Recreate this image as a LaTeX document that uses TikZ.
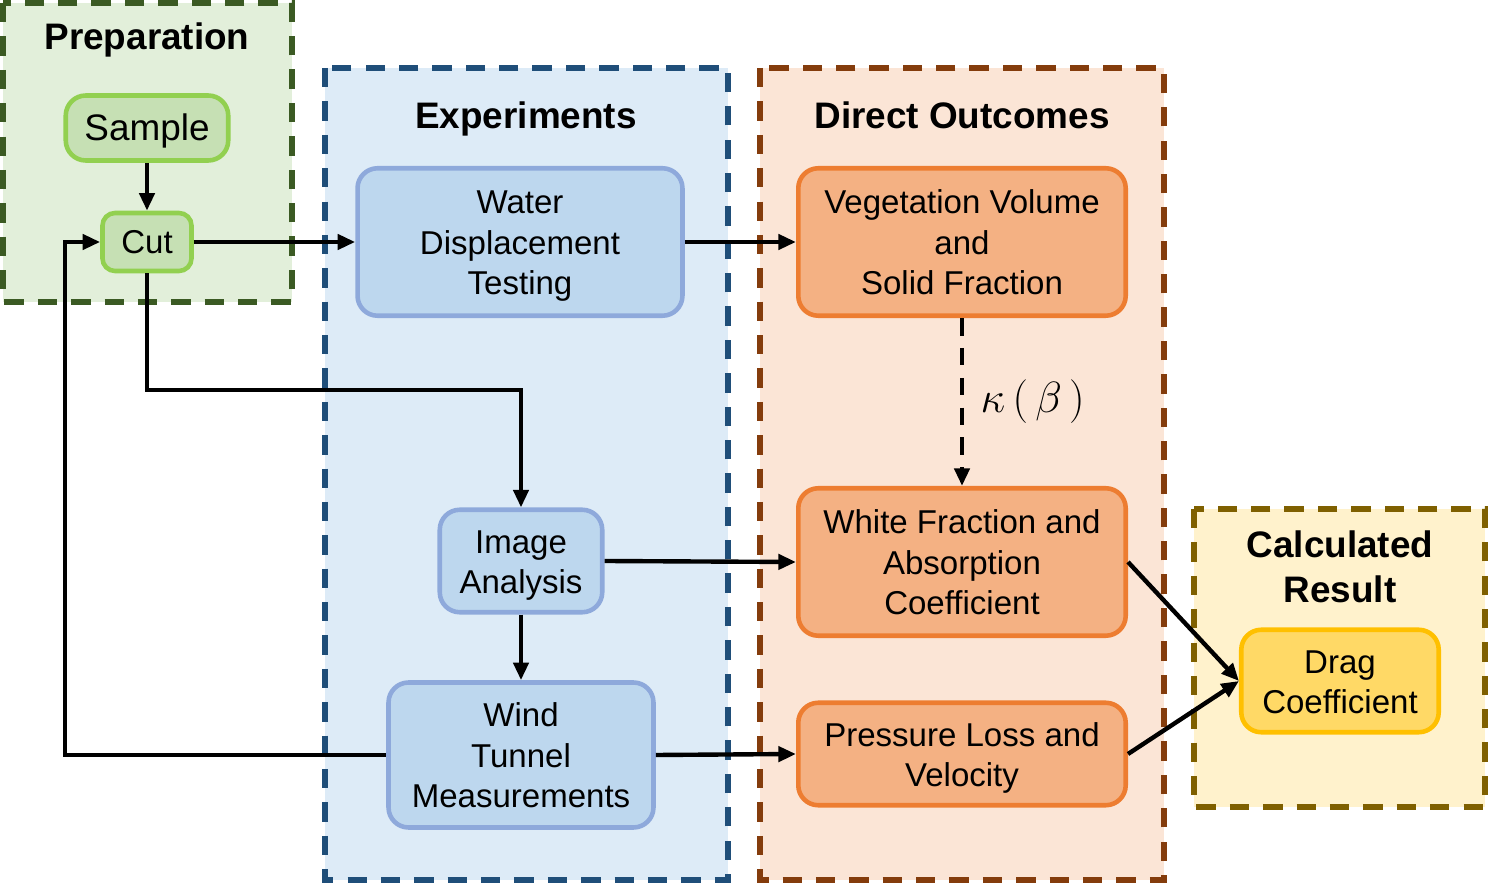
\documentclass[tikz,border=0pt]{standalone}
\usepackage{fontspec}
\setmainfont{Liberation Sans}
\usepackage{amsmath}
\definecolor{prepfill}{HTML}{E2EFDA}
\definecolor{prepdraw}{HTML}{3B5A23}
\definecolor{greenbox}{HTML}{C6E0B4}
\definecolor{greenline}{HTML}{92D050}
\definecolor{expfill}{HTML}{DDEBF7}
\definecolor{expdraw}{HTML}{1F4E79}
\definecolor{bluebox}{HTML}{BDD7EE}
\definecolor{blueline}{HTML}{8EA9DB}
\definecolor{outfill}{HTML}{FBE5D6}
\definecolor{outdraw}{HTML}{843C0C}
\definecolor{orangebox}{HTML}{F4B183}
\definecolor{orangeline}{HTML}{ED7D31}
\definecolor{calcfill}{HTML}{FFF2CC}
\definecolor{calcdraw}{HTML}{7F6000}
\definecolor{yellowbox}{HTML}{FFD966}
\definecolor{yellowline}{HTML}{FFC000}
\usetikzlibrary{arrows.meta, positioning, calc}
\newcommand{\boxtext}[1]{\raisebox{-2.3pt}[\height][\depth]{\begin{tabular}{@{}c@{}}#1\end{tabular}}}

\begin{document}
\begin{tikzpicture}[
    x=0.02cm, y=-0.02cm,
    group/.style={line width=3pt, dash pattern=on 11pt off 8pt},
    title/.style={font=\fontsize{21}{25.6}\selectfont\bfseries, align=center},
    component/.style={rectangle, line width=2.6pt, rounded corners=0.4cm, align=center, inner sep=0pt, font=\fontsize{18.8}{22.8}\selectfont},
    prepbox/.style={component, draw=greenline, fill=greenbox},
    expbox/.style={component, draw=blueline, fill=bluebox},
    outbox/.style={component, draw=orangeline, fill=orangebox},
    calcbox/.style={component, draw=yellowline, fill=yellowbox},
    arrow/.style={-{Triangle[length=10pt, width=8.5pt]}, line width=2.5pt}
]
    \useasboundingbox (0,0) rectangle (1488,884);

    % Groups
    \draw[group, draw=prepdraw, fill=prepfill] (3,3) rectangle (292,302);
    \draw[group, draw=expdraw, fill=expfill] (325,68) rectangle (728,880);
    \draw[group, draw=outdraw, fill=outfill] (760,68) rectangle (1164,880);
    \draw[group, draw=calcdraw, fill=calcfill] (1194,509) rectangle (1485,807);

    \node[title] (preptitle) at (147,40) {Preparation};
    \node[title] (exptitle) at (526,119) {Experiments};
    \node[title] (outtitle) at (962,115) {Direct Outcomes};
    \node[title] (calctitle) at (1340,567) {Calculated\\Result};

    % Preparation
    \node[prepbox, minimum width=3.25cm, minimum height=1.3cm, font=\fontsize{21}{25}\selectfont] (sample) at (147,128) {\raisebox{-1.7pt}[\height][\depth]{Sample}};
    \node[prepbox, minimum width=1.78cm, minimum height=1.16cm, rounded corners=0.25cm] (cut) at (147,242) {Cut};

    % Experiments
    \node[expbox, minimum width=6.5cm, minimum height=2.95cm] (water) at (520,242) {\boxtext{Water\\Displacement\\Testing}};
    \node[expbox, minimum width=3.25cm, minimum height=2.05cm] (image) at (521,561) {\boxtext{Image\\Analysis}};
    \node[expbox, minimum width=5.3cm, minimum height=2.9cm] (wind) at (521,755) {\boxtext{Wind\\Tunnel\\Measurements}};

    % Direct outcomes
    \node[outbox, minimum width=6.55cm, minimum height=2.95cm] (volume) at (962,242) {\boxtext{Vegetation Volume\\and\\Solid Fraction}};
    \node[outbox, minimum width=6.55cm, minimum height=2.95cm] (white) at (962,562) {\boxtext{White Fraction and\\Absorption\\Coefficient}};
    \node[outbox, minimum width=6.55cm, minimum height=2.05cm] (pressure) at (962,754) {\boxtext{Pressure Loss and\\Velocity}};

    % Calculated result
    \node[calcbox, minimum width=3.95cm, minimum height=2.05cm] (drag) at (1340,681) {\boxtext{Drag\\Coefficient}};

    % Arrows
    \coordinate (bend) at (521,390);
    \coordinate (loop) at (65,755);
    \draw[arrow] (sample) -- (cut);
    \draw[arrow] (cut) -- (water);
    \draw[arrow] (cut.south) |- (bend) -- (image.north);
    \draw[arrow] (wind.west) -- (loop) |- (cut.west);
    \draw[arrow] (image) -- (wind);
    \draw[arrow] (water) -- (volume);
    \draw[arrow, dash pattern=on 10pt off 7pt] (volume) -- node[right, xshift=6pt, font=\fontsize{26}{30}\selectfont] {$\kappa\,(\,\beta\,)$} (white);
    \draw[arrow] (image.east) -- (white.west);
    \draw[arrow] (wind.east) -- (pressure.west);
    \draw[arrow] (white.east) -- (drag.west);
    \draw[arrow] (pressure.east) -- (drag.west);
\end{tikzpicture}
\end{document}
